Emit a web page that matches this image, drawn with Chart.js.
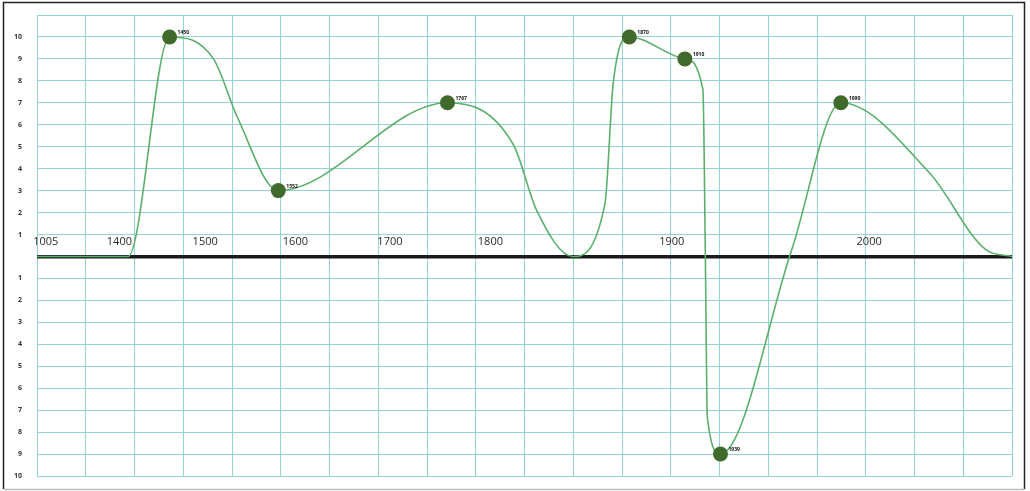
<!DOCTYPE html>
<html lang="en">
    <head>
        <meta charset="UTF-8" />
        <title>Timeline</title>
        <script src="https://cdn.jsdelivr.net/npm/chart.js"></script>
        <style>
            body { margin: 0; background: #fff; }
        </style>
    </head>
    <body>
        <canvas id="myChart" width="1030" height="491"></canvas>

        <script>
            // position along the timeline (grid columns), value, and year label of each point
            // (points without a year only follow the drawn curve)
            const timelinePos = [0, 1.87, 2.72, 3.62, 4.1, 4.95, 8.42, 9.77, 10.25, 10.99, 11.65, 11.82, 12.15, 13.29, 13.66, 13.71, 13.75, 14.02, 15.48, 16.49, 18.31, 19.47, 20];
            const values = [0, 0, 10, 9, 6.4, 3, 7, 5.1, 2.1, 0, 2.4, 7.9, 10, 9, 7.6, 0, -7.3, -9, 0.3, 7, 3.8, 0.3, 0];
            const pointYears = ["", "", "1450", "", "", "1552", "1767", "", "", "", "", "", "1870", "1910", "", "", "", "1939", "", "1990", "", "", ""];

            // year labels written on the zero line
            const yearTicks = ["1005", "1400", "1500", "1600", "1700", "1800", "1900", "2000"];
            const yearTickPos = [0.18, 1.69, 3.45, 5.3, 7.24, 9.3, 13.02, 17.07];

            const points = timelinePos.map((x, i) => ({ x: x, y: values[i] }));

            // frame round the picture
            const framePlugin = {
                id: "frame",
                beforeDraw(chart) {
                    const c = chart.ctx;
                    c.save();
                    c.fillStyle = "#fff";
                    c.fillRect(0, 0, chart.width, chart.height);
                    c.strokeStyle = "#222";
                    c.lineWidth = 1.5;
                    c.beginPath();
                    c.moveTo(3.5, 489);
                    c.lineTo(3.5, 2.5);
                    c.lineTo(1024.5, 2.5);
                    c.lineTo(1024.5, 489);
                    c.stroke();
                    c.strokeStyle = "#bbb";
                    c.beginPath();
                    c.moveTo(3.5, 489.5);
                    c.lineTo(1024.5, 489.5);
                    c.stroke();
                    c.restore();
                },
            };

            // years on the axis and small labels next to the markers
            const labelPlugin = {
                id: "labels",
                afterDatasetsDraw(chart) {
                    const c = chart.ctx;
                    const xs = chart.scales.x;
                    const ys = chart.scales.y;
                    const zeroY = ys.getPixelForValue(0);
                    c.save();
                    c.fillStyle = "#2a2a2a";
                    c.font = "11px 'Open Sans'";
                    c.textAlign = "center";
                    c.textBaseline = "middle";
                    yearTicks.forEach((t, i) => {
                        c.fillText(t, xs.getPixelForValue(yearTickPos[i]), zeroY - 15);
                    });

                    c.font = "bold 5px 'Open Sans'";
                    c.textAlign = "left";
                    c.fillStyle = "#111";
                    const meta = chart.getDatasetMeta(0);
                    meta.data.forEach((pt, i) => {
                        if (pointYears[i]) {
                            c.fillText(pointYears[i], pt.x + 8, pt.y - 4);
                        }
                    });
                    c.restore();
                },
            };

            var ctx = document.getElementById("myChart").getContext("2d");
            var myChart = new Chart(ctx, {
                type: "line",
                data: {
                    datasets: [
                        {
                            data: points,
                            borderColor: "#5cb06c",
                            borderWidth: 1.6,
                            fill: false,
                            cubicInterpolationMode: "monotone",
                            pointRadius: (c) => (pointYears[c.dataIndex] ? 7.5 : 0),
                            pointBackgroundColor: "#3f6a2c",
                            pointBorderColor: "#3f6a2c",
                            pointBorderWidth: 0,
                        },
                    ],
                },
                options: {
                    responsive: false,
                    animation: false,
                    layout: {
                        padding: { left: 3, top: 15, right: 18, bottom: 15 },
                    },
                    scales: {
                        x: {
                            type: "linear",
                            min: 0,
                            max: 20,
                            ticks: { display: false, stepSize: 1 },
                            grid: { color: "#96d3d6", lineWidth: 1, drawTicks: false },
                            border: { display: false },
                            afterFit(scale) {
                                scale.height = 0;
                                scale.paddingLeft = 0;
                                scale.paddingRight = 0;
                            },
                        },
                        y: {
                            min: -10,
                            max: 11,
                            ticks: {
                                stepSize: 1,
                                padding: 15,
                                color: "#333",
                                font: { family: "Open Sans", size: 7, weight: "bold" },
                                callback: (v) => (v === 0 || v === 11 ? "" : Math.abs(v)),
                            },
                            grid: {
                                drawTicks: false,
                                color: (c) => (c.tick && c.tick.value === 0 ? "#1a1a1a" : "#96d3d6"),
                                lineWidth: (c) => (c.tick && c.tick.value === 0 ? 3.5 : 1),
                            },
                            border: { display: false },
                            afterFit(scale) {
                                scale.width = 34;
                                scale.paddingTop = 0;
                                scale.paddingBottom = 0;
                            },
                        },
                    },
                    plugins: {
                        legend: { display: false },
                        tooltip: { enabled: false },
                    },
                },
                plugins: [framePlugin, labelPlugin],
            });
        </script>
    </body>
</html>
